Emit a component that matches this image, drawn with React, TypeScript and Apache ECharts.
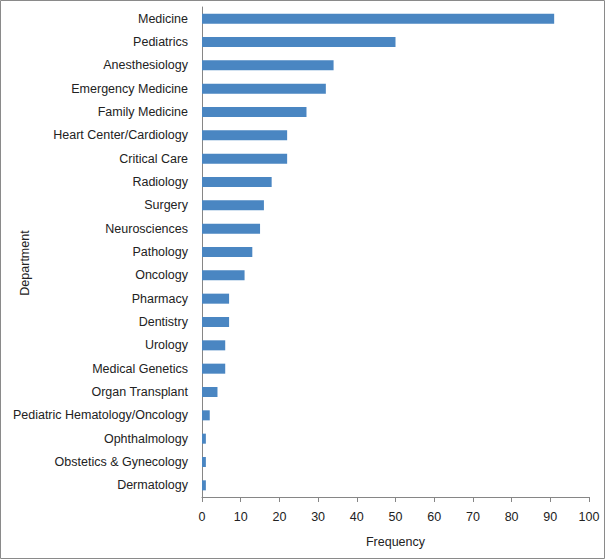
import React, { useEffect, useRef } from "react";
import * as echarts from "echarts";

const categories = [
  "Medicine",
  "Pediatrics",
  "Anesthesiology",
  "Emergency Medicine",
  "Family Medicine",
  "Heart Center/Cardiology",
  "Critical Care",
  "Radiology",
  "Surgery",
  "Neurosciences",
  "Pathology",
  "Oncology",
  "Pharmacy",
  "Dentistry",
  "Urology",
  "Medical Genetics",
  "Organ Transplant",
  "Pediatric Hematology/Oncology",
  "Ophthalmology",
  "Obstetics & Gynecology",
  "Dermatology",
];
const frequency = [91, 50, 34, 32, 27, 22, 22, 18, 16, 15, 13, 11, 7, 7, 6, 6, 4, 2, 1, 1, 1];
const xTicks = { min: 0, max: 100, interval: 10 };
const yAxisTitle = "Department";
const xAxisTitle = "Frequency";

export default function App() {
  const ref = useRef<HTMLDivElement>(null);
  useEffect(() => {
    if (!ref.current) return;
    const chart = echarts.init(ref.current, null, { renderer: "svg" });
    const font = "'Liberation Sans', Arial, sans-serif";
    chart.setOption({
      animation: false,
      backgroundColor: "#fff",
      grid: {
        left: 202,
        right: 16,
        top: 7,
        bottom: 62,
        containLabel: false,
        outerBoundsMode: "none",
      },
      graphic: [
        {
          type: "rect",
          shape: { x: 0.5, y: 0.5, width: 604, height: 558 },
          style: { fill: "none", stroke: "#8a8a8a", lineWidth: 1 },
          silent: true,
        },
        {
          type: "text",
          x: 25,
          y: 263,
          rotation: Math.PI / 2,
          style: {
            text: yAxisTitle,
            fontFamily: font,
            fontSize: 12.5,
            fill: "#222",
            align: "center",
            verticalAlign: "middle",
          },
          silent: true,
        },
      ],
      xAxis: {
        type: "value",
        min: xTicks.min,
        max: xTicks.max,
        interval: xTicks.interval,
        name: xAxisTitle,
        nameLocation: "middle",
        nameGap: 38,
        nameMoveOverlap: false,
        nameTextStyle: { fontFamily: font, fontSize: 12.5, color: "#222" },
        axisLine: { show: true, lineStyle: { color: "#868686", width: 1 } },
        axisTick: { show: true, length: 5, lineStyle: { color: "#868686" } },
        axisLabel: { fontFamily: font, fontSize: 12.5, color: "#222", margin: 13 },
        splitLine: { show: false },
      },
      yAxis: {
        type: "category",
        data: categories,
        inverse: true,
        axisLine: { show: true, lineStyle: { color: "#868686", width: 1 } },
        axisTick: { show: false },
        axisLabel: { fontFamily: font, fontSize: 12.5, color: "#222", margin: 14 },
      },
      series: [
        {
          type: "bar",
          data: frequency,
          barWidth: "43%",
          itemStyle: { color: "#4A86C2" },
        },
      ],
    });
    return () => chart.dispose();
  }, []);
  return (
    <div
      ref={ref}
      style={{ position: "fixed", left: 0, top: 0, width: 605, height: 559 }}
    />
  );
}
